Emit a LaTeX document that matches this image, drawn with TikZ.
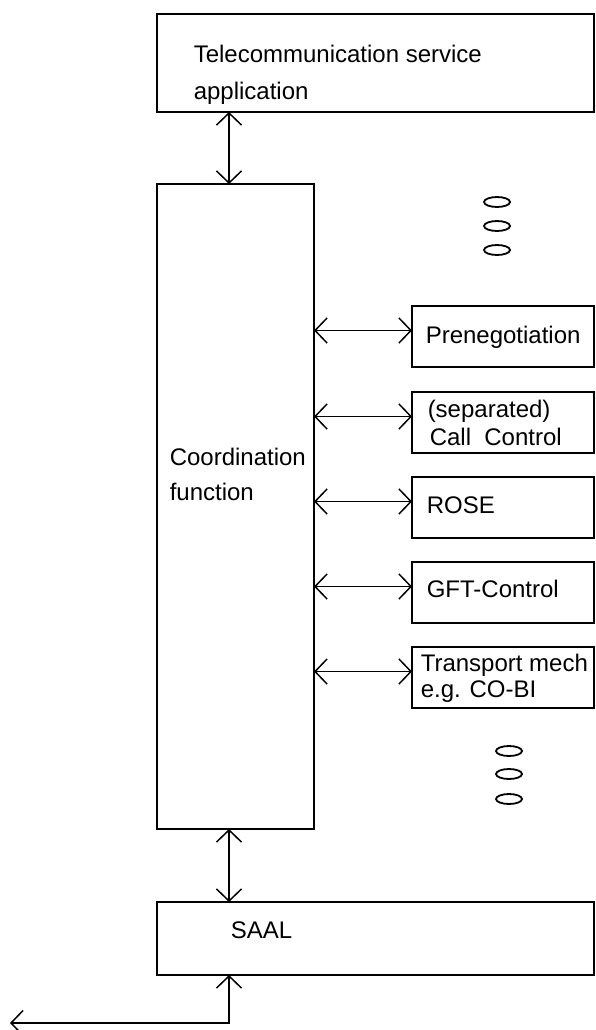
\documentclass[tikz,border=0pt]{standalone}
\usepackage{fontspec}
\setmainfont{Liberation Sans}
\usetikzlibrary{arrows.meta}

\begin{document}
\begin{tikzpicture}[x=1pt,y=-1pt,line width=1.5pt,
  box/.style={draw,rectangle,inner sep=0pt,outer sep=0pt},
  side/.style={box,minimum width=182pt,minimum height=61pt},
  txt/.style={anchor=base west,align=left,inner sep=0pt,font=\fontsize{24}{26}\selectfont},
  dot/.style={line width=1.8pt},
  >={Straight Barb[length=12pt,width=25pt]}]
\useasboundingbox (0,0) rectangle (595,1030);
% main blocks
\node[box,minimum width=437pt,minimum height=98pt] (app) at (375.5,63) {};
\node[box,minimum width=157pt,minimum height=645pt] (cf) at (235.5,506.5) {};
\node[box,minimum width=437pt,minimum height=73pt] (saal) at (375.5,938.5) {};
% side blocks
\node[side] (pn) at (503,336.5) {};
\node[side] (cc) at (503,422.5) {};
\node[side] (rose) at (503,507.5) {};
\node[side] (gft) at (503,592.5) {};
\node[side] (tm) at (503,677.5) {};
% texts (base = last line)
\node[txt] (tapp) at (193,100) {Telecommunication service\\[11pt]application};
\node[txt] (tcf) at (169,500) {Coordination\\[9pt]function};
\node[txt] (tsaal) at (230,938) {SAAL};
\node[txt] (tpn) at (425,343) {Prenegotiation};
\node[txt] (tcc) at (427,445) {(separated)\\[2pt]\hspace{2pt}Call~~Control};
\node[txt] (trose) at (426,513) {ROSE};
\node[txt] (tgft) at (426,597) {GFT-Control};
\node[txt] (ttm) at (420,697) {Transport mech\\e.g. CO-BI};
% dots
\foreach \y in {202,226,250}
  \draw[dot] (497,\y) ellipse [x radius=13pt,y radius=5pt];
\foreach \y in {751,774,799}
  \draw[dot] (509,\y) ellipse [x radius=13pt,y radius=5pt];
% connectors
\draw[<->] ([xshift=-6.5pt]cf.north) -- ([xshift=-6.5pt]cf.north |- app.south);
\draw[<->] ([xshift=-6.5pt]cf.south) -- ([xshift=-6.5pt]cf.south |- saal.north);
\foreach \n in {pn,cc,rose,gft,tm}
  \draw[<->] ([yshift=6pt]\n.west -| cf.east) -- ([yshift=6pt]\n.west);
\coordinate (out) at (10,1023);
\draw[<->] (out) -| ([xshift=-6.5pt]cf.south |- saal.south);
\end{tikzpicture}
\end{document}
